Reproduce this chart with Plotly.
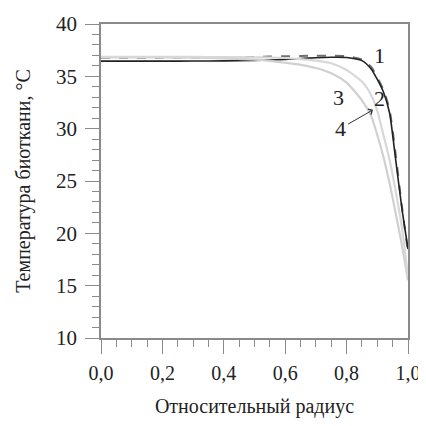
import plotly.graph_objects as go

x = [0.0, 0.1, 0.2, 0.3, 0.4, 0.5, 0.55, 0.6, 0.65, 0.7, 0.75, 0.8, 0.85, 0.88, 0.9, 0.92, 0.94, 0.96, 0.98, 1.0]
curve1 = [36.45, 36.45, 36.45, 36.46, 36.48, 36.52, 36.56, 36.62, 36.7, 36.78, 36.82, 36.8, 36.5, 35.7, 34.7, 33.5, 31.5, 27.0, 22.4, 18.5]
curve2 = [36.78, 36.78, 36.79, 36.8, 36.82, 36.86, 36.89, 36.92, 36.95, 36.97, 36.97, 36.92, 36.6, 35.9, 34.9, 33.7, 31.8, 27.5, 22.6, 18.2]
curve3 = [36.8, 36.8, 36.8, 36.78, 36.72, 36.6, 36.48, 36.3, 36.1, 35.8, 35.3, 34.4, 32.7, 31.2, 29.4, 27.3, 24.8, 21.9, 18.9, 15.5]
curve4 = [36.85, 36.85, 36.85, 36.85, 36.84, 36.82, 36.8, 36.75, 36.65, 36.5, 36.25, 35.6, 34.5, 33.2, 31.7, 29.4, 27.0, 24.0, 20.6, 15.9]

labels = ["1", "2", "3", "4"]
label_x = [0.906, 0.906, 0.774, 0.779]
label_y = [37.0, 32.9, 33.0, 30.0]
arrow_tail = (0.80, 30.35)
arrow_head = (0.886, 31.8)

x_ticks = [0.0, 0.2, 0.4, 0.6, 0.8, 1.0]
y_ticks = [10, 15, 20, 25, 30, 35, 40]

FONT = "Liberation Serif"
AX = "#8a8a8a"

fig = go.Figure()
fig.add_trace(go.Scatter(x=x, y=curve2, mode="lines", line=dict(color="#6e6e6e", width=2, dash="dash", shape="spline", smoothing=0.6)))
fig.add_trace(go.Scatter(x=x, y=curve1, mode="lines", line=dict(color="#222222", width=1.6, shape="spline", smoothing=0.6)))
fig.add_trace(go.Scatter(x=x, y=curve3, mode="lines", line=dict(color="#d0d0d0", width=2.2, shape="spline", smoothing=0.6)))
fig.add_trace(go.Scatter(x=x, y=curve4, mode="lines", line=dict(color="#d8d8d8", width=2.2, shape="spline", smoothing=0.6)))

for t, lx, ly in zip(labels, label_x, label_y):
    fig.add_annotation(x=lx, y=ly, text=t, showarrow=False, font=dict(family=FONT, size=22, color="#222"))

fig.add_annotation(x=arrow_head[0], y=arrow_head[1], ax=arrow_tail[0], ay=arrow_tail[1],
                   xref="x", yref="y", axref="x", ayref="y", text="", showarrow=True,
                   arrowhead=4, arrowsize=1.2, arrowwidth=1, arrowcolor="#333")

common = dict(showline=True, linecolor=AX, linewidth=1.5, mirror=True, ticks="outside",
              ticklen=14, tickcolor=AX, tickwidth=1, showgrid=False, zeroline=False,
              automargin=False)

fig.update_xaxes(range=[0, 1.0], tickvals=x_ticks, tickformat=".1f", ticklabelstandoff=2,
                 tickfont=dict(family=FONT, size=20, color="#222"),
                 minor=dict(dtick=0.05, ticklen=7, ticks="outside", tickcolor=AX),
                 title=dict(text="Относительный радиус", font=dict(family=FONT, size=20, color="#222"), standoff=20),
                 **common)
fig.update_yaxes(range=[10, 40], tickvals=y_ticks, ticklabelstandoff=4,
                 tickfont=dict(family=FONT, size=21, color="#222"),
                 minor=dict(dtick=1, ticklen=7, ticks="outside", tickcolor=AX),
                 title=dict(text="Температура биоткани, °C", font=dict(family=FONT, size=20, color="#222"), standoff=20),
                 **common)

# page body has an 8px default margin, so the figure is sized/offset to compensate
fig.update_layout(width=418, height=410, margin=dict(l=93, r=18, t=16, b=80),
                  plot_bgcolor="white", paper_bgcolor="white", showlegend=False,
                  separators=", ", font=dict(family=FONT))

fig.write_html("out.html")
